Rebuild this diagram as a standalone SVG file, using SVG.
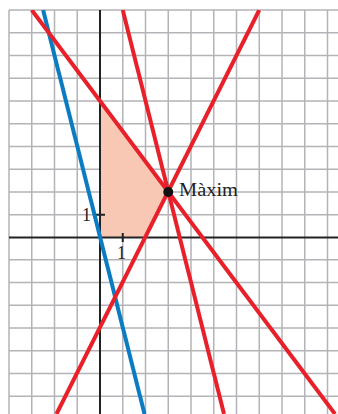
<svg xmlns="http://www.w3.org/2000/svg" width="338" height="414" viewBox="0 0 338 414">
<style>
.grid{stroke:#b4b4b8;stroke-width:1.5;fill:none}
.axis{stroke:#222;stroke-width:2;fill:none}
.red{stroke:#e8202a;stroke-width:4;fill:none}
.blue{stroke:#0b7cc1;stroke-width:4;fill:none}
.lbl{font-family:"Liberation Serif","DejaVu Serif",serif;fill:#222}
</style>
<defs>
<clipPath id="area"><rect x="9" y="10" width="329" height="404"/></clipPath>
</defs>
<rect width="338" height="414" fill="#fff"/>
<g id="grid">
<path class="grid" d="M9 10V414M31.75 10V414M54.5 10V414M77.25 10V414M122.75 10V414M145.5 10V414M168.25 10V414M191 10V414M213.75 10V414M236.5 10V414M259.25 10V414M282 10V414M304.75 10V414M327.5 10V414"/>
<path class="grid" d="M9 10H338M9 32.75H338M9 55.5H338M9 78.25H338M9 101H338M9 123.75H338M9 146.5H338M9 169.25H338M9 192H338M9 214.75H338M9 259.75H338M9 282.5H338M9 305.25H338M9 328H338M9 350.75H338M9 373.5H338M9 396.25H338"/>
</g>
<g id="region">
<polygon points="100,237.5 100,101 168.25,192 145.5,237.5" fill="#f9c8b4"/>
</g>
<g id="axes">
<path class="axis" d="M100 10V414M9 237.5H338"/>
<path class="axis" d="M96 214.75H105M122.75 233V242"/>
<text class="lbl" x="82" y="221" font-size="18">1</text>
<text class="lbl" x="117" y="259" font-size="18">1</text>
</g>
<g id="connectors" clip-path="url(#area)">
<line class="blue" x1="43.1" y1="10" x2="144.5" y2="414"/>
<line class="red" x1="31.75" y1="10" x2="335" y2="414"/>
<line class="red" x1="122.75" y1="10" x2="224" y2="414"/>
<line class="red" x1="259.25" y1="10" x2="56.5" y2="414"/>
</g>
<g id="maxim">
<circle cx="168.25" cy="192" r="5" fill="#111"/>
<text class="lbl" x="179" y="196" font-size="18" textLength="59" lengthAdjust="spacingAndGlyphs">Màxim</text>
</g>
</svg>
